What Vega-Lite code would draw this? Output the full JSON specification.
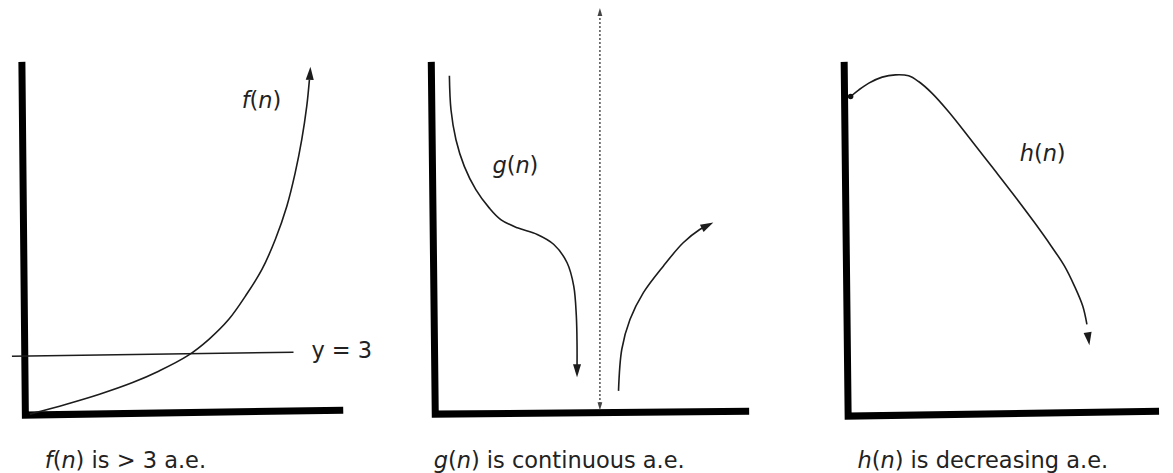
{
  "$schema": "https://vega.github.io/schema/vega-lite/v6.json",
  "width": 1173,
  "height": 473,
  "padding": 0,
  "autosize": {"type": "fit", "contains": "padding"},
  "background": "white",
  "config": {"view": {"stroke": null}},
  "datasets": {
    "axes": [
      {"panel": "f", "i": 0, "x": 22, "y": 62},
      {"panel": "f", "i": 1, "x": 25.5, "y": 416},
      {"panel": "f", "i": 2, "x": 345, "y": 411},
      {"panel": "g", "i": 0, "x": 433.5, "y": 62},
      {"panel": "g", "i": 1, "x": 437.5, "y": 415},
      {"panel": "g", "i": 2, "x": 753, "y": 412},
      {"panel": "h", "i": 0, "x": 848.5, "y": 62},
      {"panel": "h", "i": 1, "x": 852.5, "y": 417},
      {"panel": "h", "i": 2, "x": 1165, "y": 412}
    ],
    "curves": [
      {"series": "y3", "i": 0, "x": 12, "y": 357},
      {"series": "y3", "i": 1, "x": 295, "y": 353},
      {"series": "f", "i": 0, "x": 30, "y": 415},
      {"series": "f", "i": 1, "x": 66.7, "y": 405},
      {"series": "f", "i": 2, "x": 100, "y": 395},
      {"series": "f", "i": 3, "x": 133.3, "y": 383.3},
      {"series": "f", "i": 4, "x": 160, "y": 371.7},
      {"series": "f", "i": 5, "x": 188.3, "y": 356.7},
      {"series": "f", "i": 6, "x": 210, "y": 340},
      {"series": "f", "i": 7, "x": 230, "y": 320},
      {"series": "f", "i": 8, "x": 246.7, "y": 296.7},
      {"series": "f", "i": 9, "x": 263.3, "y": 270},
      {"series": "f", "i": 10, "x": 276.7, "y": 240},
      {"series": "f", "i": 11, "x": 288.3, "y": 206.7},
      {"series": "f", "i": 12, "x": 296.7, "y": 173.3},
      {"series": "f", "i": 13, "x": 303.3, "y": 140},
      {"series": "f", "i": 14, "x": 308.3, "y": 106.7},
      {"series": "f", "i": 15, "x": 311, "y": 80},
      {"series": "g1", "i": 0, "x": 451.7, "y": 76},
      {"series": "g1", "i": 1, "x": 453.3, "y": 110},
      {"series": "g1", "i": 2, "x": 458.3, "y": 140},
      {"series": "g1", "i": 3, "x": 466.7, "y": 166.7},
      {"series": "g1", "i": 4, "x": 478.3, "y": 190},
      {"series": "g1", "i": 5, "x": 491.7, "y": 208.3},
      {"series": "g1", "i": 6, "x": 503.3, "y": 220},
      {"series": "g1", "i": 7, "x": 520, "y": 228.3},
      {"series": "g1", "i": 8, "x": 540, "y": 235},
      {"series": "g1", "i": 9, "x": 556.7, "y": 245},
      {"series": "g1", "i": 10, "x": 570, "y": 263.3},
      {"series": "g1", "i": 11, "x": 576.7, "y": 286.7},
      {"series": "g1", "i": 12, "x": 579.3, "y": 316.7},
      {"series": "g1", "i": 13, "x": 580, "y": 345},
      {"series": "g1", "i": 14, "x": 580, "y": 368},
      {"series": "g2", "i": 0, "x": 621.7, "y": 391.7},
      {"series": "g2", "i": 1, "x": 625, "y": 350},
      {"series": "g2", "i": 2, "x": 633.3, "y": 320},
      {"series": "g2", "i": 3, "x": 646.7, "y": 293.3},
      {"series": "g2", "i": 4, "x": 666.7, "y": 266.7},
      {"series": "g2", "i": 5, "x": 686.7, "y": 243.3},
      {"series": "g2", "i": 6, "x": 703.3, "y": 230},
      {"series": "g2", "i": 7, "x": 709, "y": 227},
      {"series": "h", "i": 0, "x": 855, "y": 96.7},
      {"series": "h", "i": 1, "x": 863.3, "y": 90},
      {"series": "h", "i": 2, "x": 873.3, "y": 83.3},
      {"series": "h", "i": 3, "x": 886.7, "y": 77.3},
      {"series": "h", "i": 4, "x": 900, "y": 75},
      {"series": "h", "i": 5, "x": 913.3, "y": 76},
      {"series": "h", "i": 6, "x": 923.3, "y": 81.7},
      {"series": "h", "i": 7, "x": 936.7, "y": 93.3},
      {"series": "h", "i": 8, "x": 953.3, "y": 111.7},
      {"series": "h", "i": 9, "x": 973.3, "y": 136.7},
      {"series": "h", "i": 10, "x": 996.7, "y": 166.7},
      {"series": "h", "i": 11, "x": 1020, "y": 196.7},
      {"series": "h", "i": 12, "x": 1040, "y": 223.3},
      {"series": "h", "i": 13, "x": 1056.7, "y": 246.7},
      {"series": "h", "i": 14, "x": 1070, "y": 266.7},
      {"series": "h", "i": 15, "x": 1080, "y": 286.7},
      {"series": "h", "i": 16, "x": 1088.3, "y": 306.7},
      {"series": "h", "i": 17, "x": 1092.5, "y": 325}
    ],
    "asymptote": [
      {"i": 0, "x": 603, "y": 14},
      {"i": 1, "x": 603, "y": 404}
    ],
    "curveTips": [
      {"series": "f", "x": 312, "y": 67, "heading": 3},
      {"series": "g1", "x": 580, "y": 378, "heading": 180},
      {"series": "g2", "x": 717, "y": 223, "heading": 63},
      {"series": "h", "x": 1095, "y": 346, "heading": 172}
    ],
    "asymptoteTips": [
      {"x": 603, "y": 8, "heading": 0},
      {"x": 603, "y": 411, "heading": 180}
    ],
    "hStart": [
      {"x": 855, "y": 96.7}
    ],
    "italicText": [
      {"text": "f", "x": 243, "y": 108},
      {"text": "n", "x": 259.7, "y": 108},
      {"text": "g", "x": 495, "y": 173},
      {"text": "n", "x": 518.1, "y": 173},
      {"text": "h", "x": 1025, "y": 161},
      {"text": "n", "x": 1048, "y": 161},
      {"text": "f", "x": 45, "y": 469},
      {"text": "n", "x": 61.7, "y": 469},
      {"text": "g", "x": 436, "y": 469},
      {"text": "n", "x": 459.1, "y": 469},
      {"text": "h", "x": 862, "y": 469},
      {"text": "n", "x": 885, "y": 469}
    ],
    "uprightText": [
      {"text": "(", "x": 250.9, "y": 108},
      {"text": ")", "x": 274, "y": 108},
      {"text": "(", "x": 509.3, "y": 173},
      {"text": ")", "x": 532.3, "y": 173},
      {"text": "(", "x": 1039.3, "y": 161},
      {"text": ")", "x": 1062.3, "y": 161},
      {"text": "y = 3", "x": 313, "y": 359},
      {"text": "(", "x": 52.9, "y": 469},
      {"text": ")", "x": 76, "y": 469},
      {"text": "is > 3 a.e.", "x": 92, "y": 469},
      {"text": "(", "x": 450.3, "y": 469},
      {"text": ")", "x": 473.3, "y": 469},
      {"text": "is continuous a.e.", "x": 489.3, "y": 469},
      {"text": "(", "x": 876.3, "y": 469},
      {"text": ")", "x": 899.3, "y": 469},
      {"text": "is decreasing a.e.", "x": 915.3, "y": 469}
    ]
  },
  "encoding": {
    "x": {"field": "x", "type": "quantitative", "scale": {"domain": [0, 1173], "nice": false, "zero": false}, "axis": null},
    "y": {"field": "y", "type": "quantitative", "scale": {"domain": [0, 473], "nice": false, "zero": false, "reverse": true}, "axis": null}
  },
  "layer": [
    {
      "data": {"name": "axes"},
      "mark": {"type": "line", "color": "#000000", "strokeWidth": 7, "strokeJoin": "miter", "strokeCap": "butt"},
      "encoding": {"detail": {"field": "panel"}, "order": {"field": "i", "type": "quantitative"}}
    },
    {
      "data": {"name": "asymptote"},
      "mark": {"type": "line", "color": "#444444", "strokeWidth": 1.4, "strokeDash": [2, 2]},
      "encoding": {"order": {"field": "i", "type": "quantitative"}}
    },
    {
      "data": {"name": "asymptoteTips"},
      "mark": {"type": "point", "shape": "M0,0L0.6,2L-0.6,2Z", "filled": true, "color": "#444444", "size": 64, "opacity": 1},
      "encoding": {"angle": {"field": "heading", "type": "quantitative", "scale": null}}
    },
    {
      "data": {"name": "curves"},
      "mark": {"type": "line", "color": "#1c1c1c", "strokeWidth": 1.6, "interpolate": "catmull-rom"},
      "encoding": {"detail": {"field": "series"}, "order": {"field": "i", "type": "quantitative"}}
    },
    {
      "data": {"name": "curveTips"},
      "mark": {"type": "point", "shape": "M0,0L0.62,2L-0.62,2Z", "filled": true, "color": "#1c1c1c", "size": 169, "opacity": 1},
      "encoding": {"angle": {"field": "heading", "type": "quantitative", "scale": null}}
    },
    {
      "data": {"name": "hStart"},
      "mark": {"type": "point", "shape": "circle", "filled": true, "color": "#111111", "size": 30, "opacity": 1},
      "encoding": {}
    },
    {
      "data": {"name": "italicText"},
      "mark": {"type": "text", "font": "DejaVu Sans", "fontStyle": "italic", "fontSize": 22.5, "align": "left", "baseline": "alphabetic", "color": "#222222"},
      "encoding": {"text": {"field": "text"}}
    },
    {
      "data": {"name": "uprightText"},
      "mark": {"type": "text", "font": "DejaVu Sans", "fontSize": 22.5, "align": "left", "baseline": "alphabetic", "color": "#222222"},
      "encoding": {"text": {"field": "text"}}
    }
  ]
}
